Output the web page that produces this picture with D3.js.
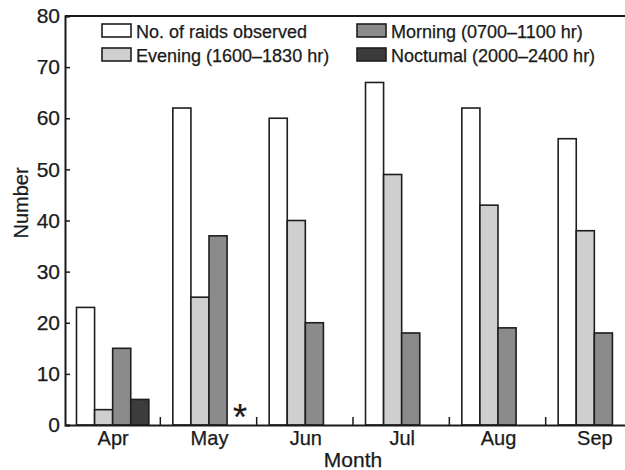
<!DOCTYPE html>
<html>
<head>
<meta charset="utf-8">
<script src="https://cdn.jsdelivr.net/npm/d3@7"></script>
<style>
  body { margin: 0; background: #fff; }
  text { font-family: "Liberation Sans", Arial, sans-serif; fill: #1a1a1a; stroke: #1a1a1a; stroke-width: 0.25px; }
</style>
</head>
<body>
<div id="chart"></div>
<script>
// data
var months = ["Apr", "May", "Jun", "Jul", "Aug", "Sep"];
var series = ["No. of raids observed", "Evening (1600\u20131830 hr)", "Morning (0700\u20131100 hr)", "Noctumal (2000\u20132400 hr)"];
var raids = [23, 62, 60, 67, 62, 56];
var evening = [3, 25, 40, 49, 43, 38];
var morning = [15, 37, 20, 18, 19, 18];
var nocturnal = [5, 0, null, null, null, null];
var yTicks = [0, 10, 20, 30, 40, 50, 60, 70, 80];
var colors = ["#ffffff", "#cfcfcf", "#8b8b8b", "#3c3c3c"];

var W = 625, H = 470;
var margin = {top: 16, left: 65, bottom: 45};
var plotBottom = H - margin.bottom; // y of zero

var svg = d3.select("#chart").append("svg")
  .attr("width", W).attr("height", H);

var x = d3.scaleBand().domain(months).range([margin.left, 643]).padding(0);
var inner = d3.scaleBand().domain(series).range([11.5, x.bandwidth() - 12.5]).padding(0);
var y = d3.scaleLinear().domain([0, 80]).range([plotBottom, margin.top]);

var rows = months.map(function(m, i) {
  return {month: m, vals: [raids[i], evening[i], morning[i], nocturnal[i]]};
});

// bars
var groups = svg.append("g").selectAll("g")
  .data(rows).enter().append("g")
    .attr("transform", function(d) { return "translate(" + x(d.month) + ",0)"; });

groups.selectAll("rect")
  .data(function(d) {
    return d.vals.map(function(v, k) { return {s: series[k], v: v, k: k}; })
      .filter(function(e) { return e.v; });
  })
  .enter().append("rect")
    .attr("x", function(d) { return inner(d.s); })
    .attr("y", function(d) { return y(d.v); })
    .attr("width", inner.bandwidth())
    .attr("height", function(d) { return y(0) - y(d.v); })
    .style("fill", function(d) { return colors[d.k]; })
    .style("stroke", "#1e1e1e")
    .style("stroke-width", 1.6);

// asterisk for May nocturnal (no raids)
svg.append("text")
  .attr("x", x("May") + inner(series[3]) + inner.bandwidth() / 2 + 4)
  .attr("y", plotBottom + 5)
  .attr("text-anchor", "middle")
  .style("font-size", "36px")
  .text("*");

// y axis
var yAxis = svg.append("g")
  .attr("transform", "translate(" + margin.left + ",0)")
  .call(d3.axisLeft(y).tickValues(yTicks).tickSize(-5).tickPadding(5));
yAxis.select(".domain").attr("stroke", "#1a1a1a").attr("stroke-width", 2);
yAxis.selectAll(".tick line").attr("stroke", "#1a1a1a").attr("stroke-width", 1.5);
yAxis.selectAll(".tick text").style("font-size", "21px").style("font-family", "Liberation Sans, Arial, sans-serif");

// x axis: ticks at group boundaries, labels centred
var xAxis = svg.append("g")
  .attr("transform", "translate(0," + plotBottom + ")")
  .call(d3.axisBottom(x).tickSize(0).tickPadding(6));
xAxis.select(".domain").attr("stroke", "#1a1a1a").attr("stroke-width", 2);
xAxis.selectAll(".tick text").style("font-size", "20px").style("font-family", "Liberation Sans, Arial, sans-serif");
xAxis.selectAll(".bound")
  .data(months.slice(1))
  .enter().append("line")
    .attr("x1", function(m) { return x(m) - 1; })
    .attr("x2", function(m) { return x(m) - 1; })
    .attr("y1", 0).attr("y2", -8)
    .attr("stroke", "#1a1a1a").attr("stroke-width", 1.5);

// top frame line
svg.append("line")
  .attr("x1", margin.left).attr("x2", W)
  .attr("y1", y(80)).attr("y2", y(80))
  .attr("stroke", "#1a1a1a").attr("stroke-width", 2);

// axis titles
svg.append("text")
  .attr("x", 353).attr("y", 467)
  .attr("text-anchor", "middle")
  .style("font-size", "21px")
  .text("Month");

svg.append("text")
  .attr("transform", "translate(28,203) rotate(-90)")
  .attr("text-anchor", "middle")
  .style("font-size", "20px")
  .text("Number");

// legend
var legendPos = [[102, 24], [102, 48], [357, 24], [357, 48]];
var legend = svg.append("g").selectAll("g")
  .data(series).enter().append("g")
    .attr("transform", function(d, i) { return "translate(" + legendPos[i][0] + "," + legendPos[i][1] + ")"; });
legend.append("rect")
  .attr("width", 29).attr("height", 13)
  .style("fill", function(d, i) { return colors[i]; })
  .style("stroke", "#1e1e1e").style("stroke-width", 1.6);
legend.append("text")
  .attr("x", 34).attr("y", 14)
  .style("font-size", "18px")
  .text(function(d) { return d; });
</script>
</body>
</html>
